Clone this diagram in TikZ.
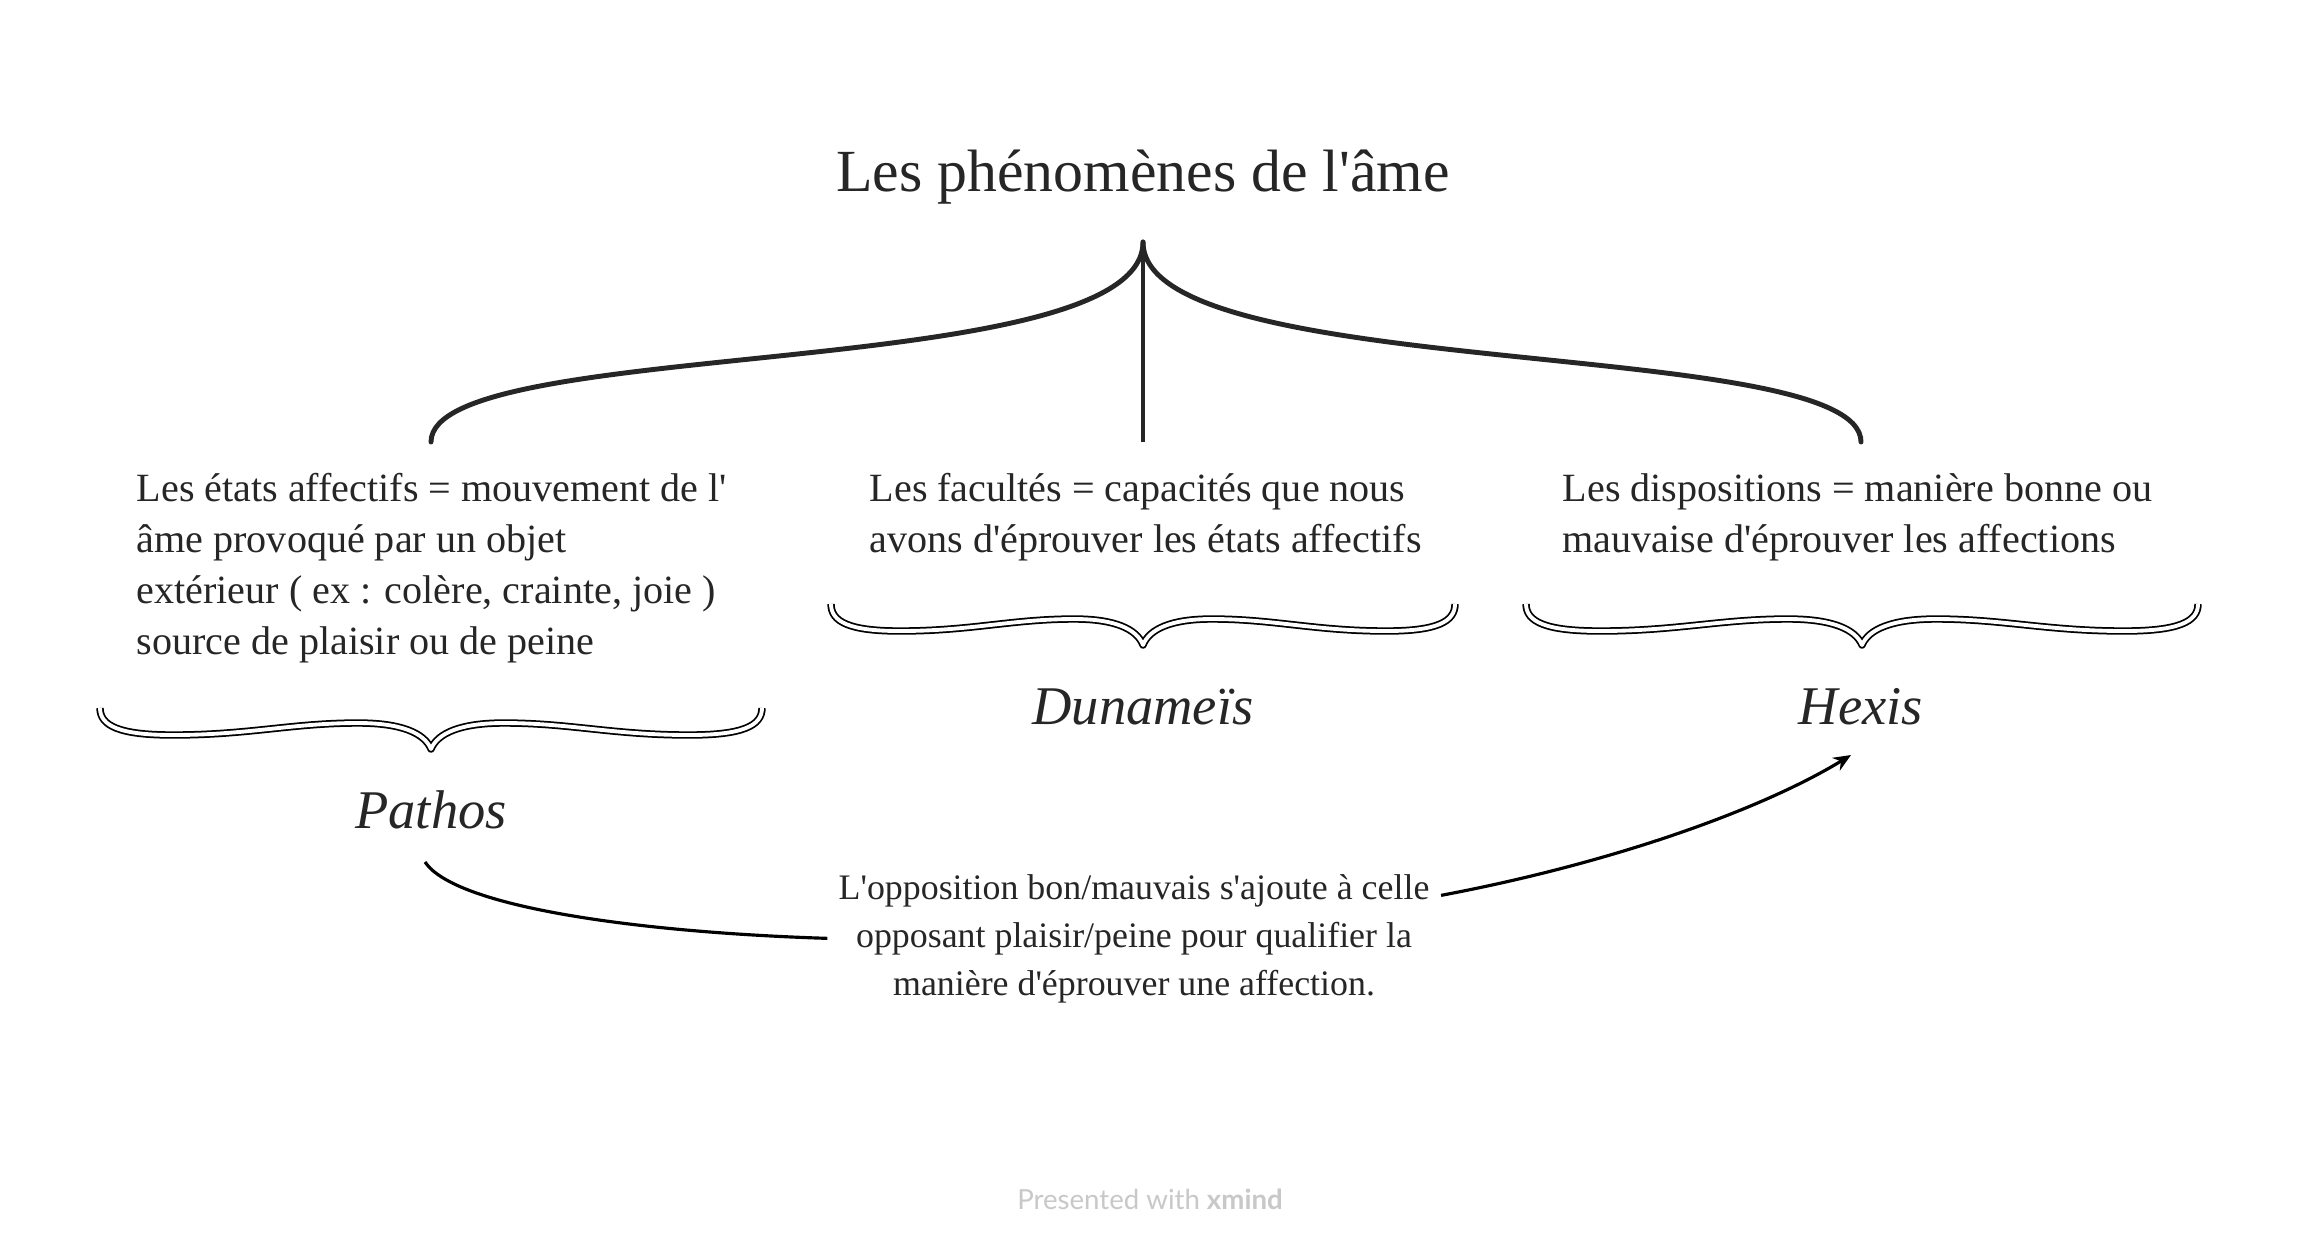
\documentclass[tikz,border=0pt]{standalone}
\usepackage{fontspec}
\setmainfont{Liberation Serif}[Ligatures=TeXOff]
\newfontfamily\wmfont{Lato}
\usetikzlibrary{arrows.meta}
\definecolor{ink}{HTML}{262626}
\definecolor{wm}{HTML}{C8C8C8}
\tikzset{
  body/.style={inner sep=0pt, font=\fontsize{11.4}{14.5}\selectfont, text=ink, align=left, anchor=base west},
  latin/.style={inner sep=0pt, font=\fontsize{15.5}{18}\selectfont\itshape, text=ink, anchor=base},
  bigbrace/.style={draw=ink, line width=1.4pt, line cap=round},
  stem/.style={draw=ink, line width=0.9pt},
  smallbrace/.style={draw=black, line width=0.5pt, double=white, double distance=1.1pt, line join=round},
  conn/.style={draw=black, line width=0.9pt}
}
\newcommand{\sbrace}[3]{%
  \begin{scope}[shift={(#1,#2)}, xscale=#3/100]
    \draw[smallbrace] (-100,0) .. controls (-100,18) and (-94,27) .. (-78,27)
      .. controls (-55,27) and (-42,15) .. (-22,15)
      .. controls (-9,15) and (-2,25) .. (0,41)
      .. controls (2,25) and (9,15) .. (22,15)
      .. controls (42,15) and (55,27) .. (78,27)
      .. controls (94,27) and (100,18) .. (100,0);
  \end{scope}}
\begin{document}
\begin{tikzpicture}[x=0.01cm,y=-0.01cm]
\useasboundingbox[fill=white] (0,0) rectangle (2298,1248);

\node[anchor=base, inner sep=0pt, font=\fontsize{17}{20}\selectfont, text=ink] (title) at (1143,191) {Les phénomènes de l'âme};

% top brace
\coordinate (apex) at ([shift={(0,51)}]title.base);
\draw[bigbrace] (apex) .. controls (1143,384) and (431,335) .. (431,442);
\draw[bigbrace] (apex) .. controls (1143,384) and (1861,335) .. (1861,442);
\draw[stem] (apex) -- (1143,442);

% texts (anchor = baseline of the last line)
\node[body] (etats) at (136,654) {Les états affectifs = mouvement de l'\\âme provoqué par un objet\\extérieur ( ex : colère, crainte, joie )\\source de plaisir ou de peine};
\node[body] (facultes) at (869,552) {Les facultés = capacités que nous\\avons d'éprouver les états affectifs};
\node[body] (dispos) at (1562,552) {Les dispositions = manière bonne ou\\mauvaise d'éprouver les affections};

% small braces
\sbrace{431}{708}{331}
\sbrace{1143}{604}{312}
\sbrace{1862}{604}{336}

\node[latin] (pathos) at (431,828) {Pathos};
\node[latin] (dunameis) at (1143,724) {Dunameïs};
\node[latin] (hexis) at (1861,724) {Hexis};

\node[inner sep=0pt, font=\fontsize{10.2}{13.65}\selectfont, text=ink, align=center, anchor=base] (opp) at (1134,995)
  {L'opposition bon/mauvais s'ajoute à celle\\opposant plaisir/peine pour qualifier la\\manière d'éprouver une affection.};

\draw[conn] ([shift={(-6,34)}]pathos.base) .. controls +(30,45) and +(-190,-6) .. ([xshift=-3]opp.west);
\draw[conn, -{Stealth[length=5pt,width=4.2pt]}] ([shift={(11,-43)}]opp.east) .. controls +(170,-32) and +(-90,55) .. ([shift={(-10,31)}]hexis.base);

\node[font=\wmfont\fontsize{7.85}{9}\selectfont, text=wm, inner sep=0pt] (wmark) at (1150,1199) {Presented with \textbf{xmind}};
\end{tikzpicture}
\end{document}
